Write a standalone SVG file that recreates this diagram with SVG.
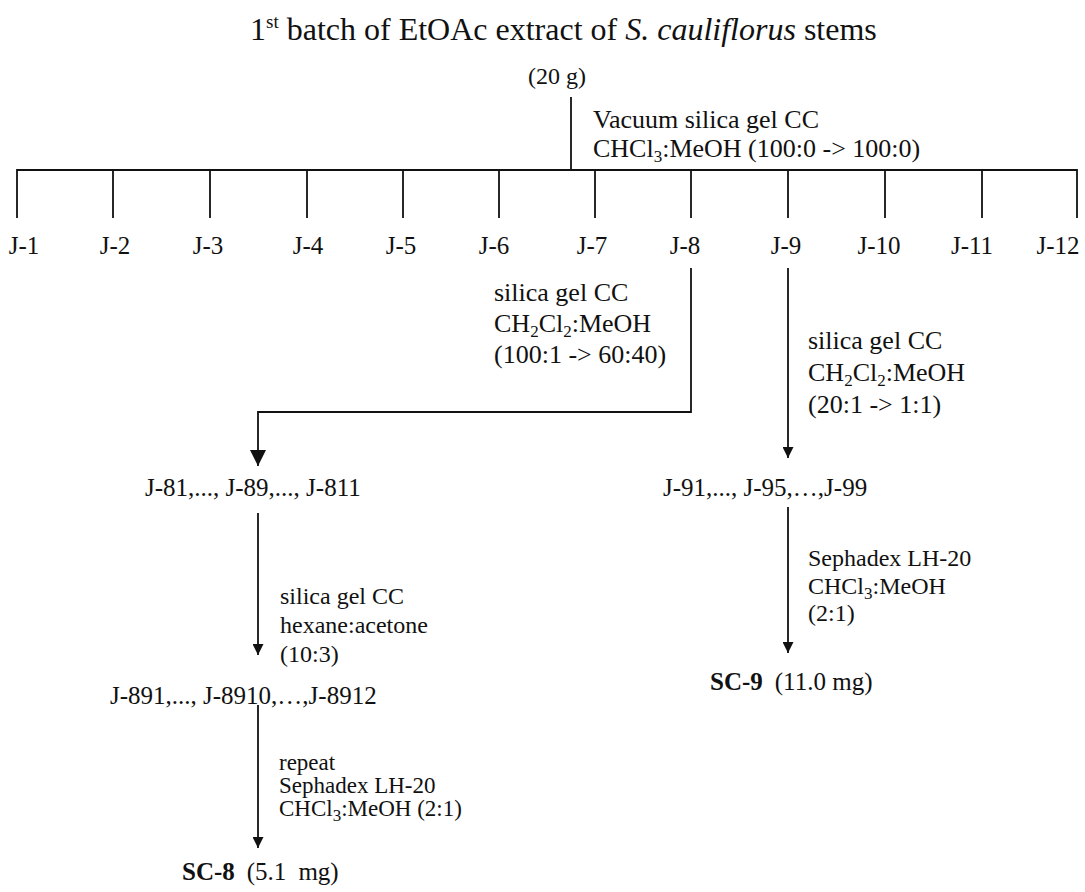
<svg xmlns="http://www.w3.org/2000/svg" width="1085" height="892" viewBox="0 0 1085 892">
<style>
text{font-family:"Liberation Serif","Times New Roman",serif;fill:#111}
.t{font-size:32px}
.u{font-size:26px}
.j{font-size:25px;text-anchor:middle}
.r{font-size:25px}
.l{font-size:24px}
.s{font-size:23px}
.b{font-weight:bold}
.sub{font-size:17px}
.ln{fill:none;stroke:#111;stroke-width:1.8}
</style>
<defs>
<marker id="ab" markerUnits="userSpaceOnUse" markerWidth="17" markerHeight="16" refX="16" refY="8" orient="auto"><path d="M0,0 L16,8 L0,16 Z" fill="#111"/></marker>
<marker id="as" markerUnits="userSpaceOnUse" markerWidth="12" markerHeight="11" refX="11" refY="5.5" orient="auto"><path d="M0,0 L11,5.5 L0,11 Z" fill="#111"/></marker>
</defs>
<g id="connectors" class="ln">
<path d="M571,97 V170"/>
<path d="M17,218 V170 H1077 V218"/>
<path d="M113,170 V218 M210,170 V218 M307,170 V218 M403,170 V218 M499,170 V218 M595,170 V218 M691,170 V218 M788,170 V218 M885,170 V218 M982,170 V218"/>
<path d="M691,268 V412 H258 V466" marker-end="url(#ab)"/>
<path d="M788,268 V458" marker-end="url(#as)"/>
<path d="M258,513 V655" marker-end="url(#as)"/>
<path d="M788,507 V653" marker-end="url(#as)"/>
<path d="M258,705 V848" marker-end="url(#as)"/>
</g>
<g id="title">
<text class="t" x="250" y="40">1<tspan font-size="19" dy="-12">st</tspan><tspan dy="12"> batch of EtOAc extract of </tspan><tspan font-style="italic">S. cauliflorus</tspan> stems</text>
<text class="l" x="557" y="84" text-anchor="middle">(20 g)</text>
</g>
<g id="step1-label">
<text class="u" x="593" y="128">Vacuum silica gel CC</text>
<text class="u" x="593" y="157">CHCl<tspan class="sub" dy="5">3</tspan><tspan dy="-5">:MeOH (100:0 -&gt; 100:0)</tspan></text>
</g>
<g id="fractions">
<text class="j" x="24" y="254">J-1</text>
<text class="j" x="115" y="254">J-2</text>
<text class="j" x="208" y="254">J-3</text>
<text class="j" x="308" y="254">J-4</text>
<text class="j" x="401" y="254">J-5</text>
<text class="j" x="494" y="254">J-6</text>
<text class="j" x="592" y="254">J-7</text>
<text class="j" x="685" y="254">J-8</text>
<text class="j" x="786" y="254">J-9</text>
<text class="j" x="879" y="254">J-10</text>
<text class="j" x="972" y="254">J-11</text>
<text class="j" x="1058" y="254">J-12</text>
</g>
<g id="j8-label">
<text class="u" x="494" y="301">silica gel CC</text>
<text class="u" x="494" y="332">CH<tspan class="sub" dy="5">2</tspan><tspan dy="-5">Cl</tspan><tspan class="sub" dy="5">2</tspan><tspan dy="-5">:MeOH</tspan></text>
<text class="u" x="494" y="363">(100:1 -&gt; 60:40)</text>
</g>
<g id="j9-label">
<text class="u" x="808" y="349">silica gel CC</text>
<text class="u" x="808" y="381">CH<tspan class="sub" dy="5">2</tspan><tspan dy="-5">Cl</tspan><tspan class="sub" dy="5">2</tspan><tspan dy="-5">:MeOH</tspan></text>
<text class="u" x="808" y="413">(20:1 -&gt; 1:1)</text>
</g>
<g id="j81-row">
<text class="r" x="145" y="496">J-81,..., J-89,..., J-811</text>
</g>
<g id="j91-row">
<text class="r" x="663" y="496">J-91,..., J-95,…,J-99</text>
</g>
<g id="j81-label">
<text class="l" x="280" y="604">silica gel CC</text>
<text class="l" x="280" y="633">hexane:acetone</text>
<text class="l" x="280" y="662">(10:3)</text>
</g>
<g id="j91-label">
<text class="l" x="808" y="566">Sephadex LH-20</text>
<text class="l" x="808" y="594">CHCl<tspan class="sub" dy="5">3</tspan><tspan dy="-5">:MeOH</tspan></text>
<text class="l" x="808" y="621">(2:1)</text>
</g>
<g id="j891-row">
<text class="r" x="110" y="704">J-891,..., J-8910,…,J-8912</text>
</g>
<g id="sc9">
<text class="r" x="710" y="690"><tspan class="b">SC-9</tspan><tspan dx="12">(11.0 mg)</tspan></text>
</g>
<g id="j891-label">
<text class="s" x="279" y="770">repeat</text>
<text class="s" x="279" y="793">Sephadex LH-20</text>
<text class="s" x="279" y="816">CHCl<tspan class="sub" dy="5">3</tspan><tspan dy="-5">:MeOH (2:1)</tspan></text>
</g>
<g id="sc8">
<text class="r" x="182" y="880"><tspan class="b">SC-8</tspan><tspan dx="12">(5.1</tspan><tspan dx="12">mg)</tspan></text>
</g>
</svg>
